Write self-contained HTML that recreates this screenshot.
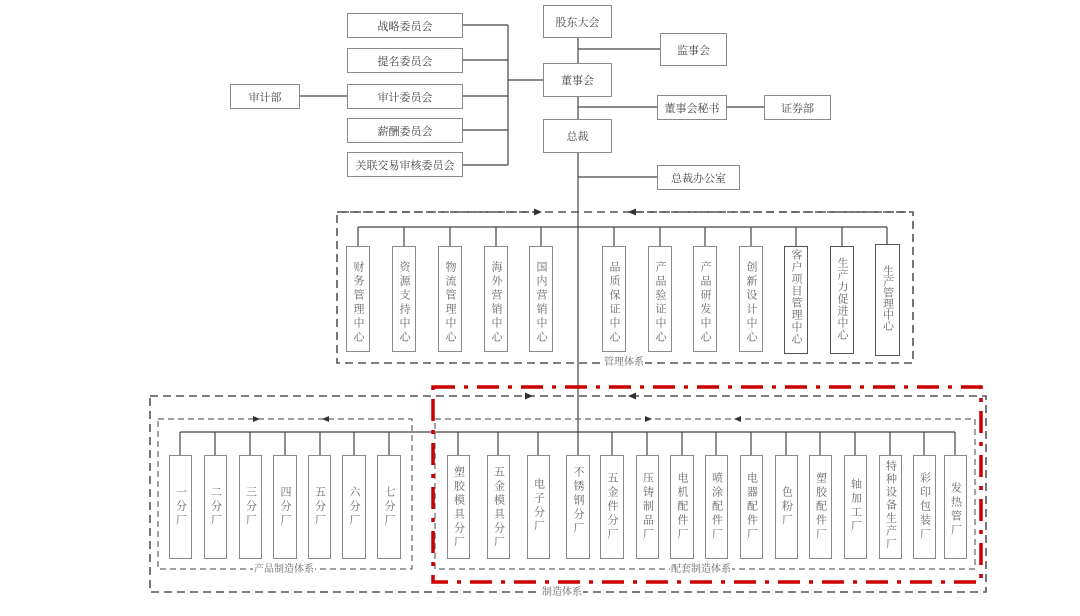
<!DOCTYPE html>
<html><head><meta charset="utf-8"><style>
body{margin:0;background:#fff;width:1080px;height:616px;overflow:hidden;position:relative;font-family:"Liberation Serif","Noto Serif CJK SC","Noto Sans CJK SC",serif;color:#555}
.b{position:absolute;border:1px solid #8a8a8a;background:#fff;box-sizing:border-box;display:flex;align-items:center;justify-content:center;font-size:11px;color:#444}
.v{position:absolute;border:1px solid #8a8a8a;background:#fff;box-sizing:border-box;display:flex;justify-content:center;font-size:11px;color:#666}
.v span{writing-mode:vertical-rl;text-orientation:upright;letter-spacing:3px;line-height:12px}
.lbl{position:absolute;font-size:10px;color:#666;background:#fff;padding:0 1px;line-height:11px}
</style></head><body>
<svg width="1080" height="616" style="position:absolute;left:0;top:0">
<g stroke="#444" stroke-width="1.2" fill="none">
<line x1="578" y1="38" x2="578" y2="432"/>
<line x1="578" y1="49" x2="660" y2="49"/>
<line x1="578" y1="107" x2="657" y2="107"/>
<line x1="727" y1="107" x2="764" y2="107"/>
<line x1="578" y1="177" x2="657" y2="177"/>
<line x1="508" y1="25" x2="508" y2="165"/>
<line x1="508" y1="80" x2="543" y2="80"/>
<line x1="463" y1="25" x2="508" y2="25"/>
<line x1="463" y1="60" x2="508" y2="60"/>
<line x1="463" y1="96" x2="508" y2="96"/>
<line x1="463" y1="130" x2="508" y2="130"/>
<line x1="463" y1="165" x2="508" y2="165"/>
<line x1="300" y1="96" x2="347" y2="96"/>
<line x1="358" y1="227" x2="887" y2="227"/>
<g id="m">
<line x1="358" y1="227" x2="358" y2="246"/><line x1="404" y1="227" x2="404" y2="246"/><line x1="450" y1="227" x2="450" y2="246"/><line x1="496" y1="227" x2="496" y2="246"/><line x1="541" y1="227" x2="541" y2="246"/><line x1="614" y1="227" x2="614" y2="246"/><line x1="660" y1="227" x2="660" y2="246"/><line x1="705" y1="227" x2="705" y2="246"/><line x1="751" y1="227" x2="751" y2="246"/><line x1="796" y1="227" x2="796" y2="246"/><line x1="842" y1="227" x2="842" y2="246"/><line x1="887" y1="227" x2="887" y2="246"/>
</g>
<line x1="180" y1="432" x2="955" y2="432"/>
<line x1="180" y1="432" x2="180" y2="455"/><line x1="215" y1="432" x2="215" y2="455"/><line x1="250" y1="432" x2="250" y2="455"/><line x1="285" y1="432" x2="285" y2="455"/><line x1="320" y1="432" x2="320" y2="455"/><line x1="354" y1="432" x2="354" y2="455"/><line x1="389" y1="432" x2="389" y2="455"/>
<line x1="458" y1="432" x2="458" y2="455"/><line x1="498" y1="432" x2="498" y2="455"/><line x1="538" y1="432" x2="538" y2="455"/><line x1="578" y1="432" x2="578" y2="455"/><line x1="612" y1="432" x2="612" y2="455"/><line x1="647" y1="432" x2="647" y2="455"/><line x1="682" y1="432" x2="682" y2="455"/><line x1="716" y1="432" x2="716" y2="455"/><line x1="751" y1="432" x2="751" y2="455"/><line x1="786" y1="432" x2="786" y2="455"/><line x1="820" y1="432" x2="820" y2="455"/><line x1="855" y1="432" x2="855" y2="455"/><line x1="890" y1="432" x2="890" y2="455"/><line x1="924" y1="432" x2="924" y2="455"/><line x1="955" y1="432" x2="955" y2="455"/>
</g>
<g stroke="#555" fill="none" stroke-width="1.6" stroke-dasharray="8,5">
<rect x="337" y="212" width="576" height="151"/>
<rect x="150" y="396" width="836" height="196"/>
</g>
<g stroke="#666" fill="none" stroke-width="1.2" stroke-dasharray="6,4">
<rect x="158" y="419" width="254" height="150"/>
<rect x="435" y="419" width="540" height="150"/>
</g>
<g stroke="#555" stroke-width="1.4" stroke-dasharray="7,5">
<line x1="342" y1="212" x2="535" y2="212"/><line x1="635" y1="212" x2="910" y2="212"/>
</g>
<g fill="#333">
<polygon points="542,212 534,208.5 534,215.5"/><polygon points="628,212 636,208.5 636,215.5"/>
<polygon points="533,396 525,392.5 525,399.5"/><polygon points="628,396 636,392.5 636,399.5"/>
<polygon points="260,419 253,416 253,422"/><polygon points="322,419 329,416 329,422"/>
<polygon points="652,419 645,416 645,422"/><polygon points="734,419 741,416 741,422"/>
</g>
<rect x="433" y="387" width="548" height="195" fill="none" stroke="#c00" stroke-width="3.5" stroke-dasharray="22,9,4,9"/>
</svg>
<div class="b" style="left:543px;top:5px;width:69px;height:33px">股东大会</div>
<div class="b" style="left:660px;top:33px;width:67px;height:33px">监事会</div>
<div class="b" style="left:543px;top:63px;width:69px;height:34px">董事会</div>
<div class="b" style="left:657px;top:95px;width:70px;height:25px">董事会秘书</div>
<div class="b" style="left:764px;top:95px;width:67px;height:25px">证券部</div>
<div class="b" style="left:543px;top:119px;width:69px;height:34px">总裁</div>
<div class="b" style="left:657px;top:165px;width:83px;height:25px">总裁办公室</div>
<div class="b" style="left:347px;top:13px;width:116px;height:25px">战略委员会</div>
<div class="b" style="left:347px;top:48px;width:116px;height:25px">提名委员会</div>
<div class="b" style="left:347px;top:84px;width:116px;height:25px">审计委员会</div>
<div class="b" style="left:347px;top:118px;width:116px;height:25px">薪酬委员会</div>
<div class="b" style="left:347px;top:152px;width:116px;height:25px">关联交易审核委员会</div>
<div class="b" style="left:230px;top:84px;width:70px;height:25px">审计部</div>

<div class="v" style="left:346px;top:246px;width:24px;height:106px;padding-top:14px"><span>财务管理中心</span></div>
<div class="v" style="left:392px;top:246px;width:24px;height:106px;padding-top:14px"><span>资源支持中心</span></div>
<div class="v" style="left:438px;top:246px;width:24px;height:106px;padding-top:14px"><span>物流管理中心</span></div>
<div class="v" style="left:484px;top:246px;width:24px;height:106px;padding-top:14px"><span>海外营销中心</span></div>
<div class="v" style="left:529px;top:246px;width:24px;height:106px;padding-top:14px"><span>国内营销中心</span></div>
<div class="v" style="left:602px;top:246px;width:24px;height:106px;padding-top:14px"><span>品质保证中心</span></div>
<div class="v" style="left:648px;top:246px;width:24px;height:106px;padding-top:14px"><span>产品验证中心</span></div>
<div class="v" style="left:693px;top:246px;width:24px;height:106px;padding-top:14px"><span>产品研发中心</span></div>
<div class="v" style="left:739px;top:246px;width:24px;height:106px;padding-top:14px"><span>创新设计中心</span></div>
<div class="v" style="left:784px;top:246px;width:24px;height:108px;padding-top:2px;border:1.5px solid #555"><span style="letter-spacing:1px">客户项目管理中心</span></div>
<div class="v" style="left:830px;top:246px;width:24px;height:108px;padding-top:10px;border:1.5px solid #555"><span style="letter-spacing:1px">生产力促进中心</span></div>
<div class="v" style="left:875px;top:244px;width:25px;height:112px;padding-top:20px;border:1.5px solid #555"><span style="letter-spacing:0">生产管理中心</span></div>
<div class="lbl" style="left:603px;top:357px">管理体系</div>

<div class="v" style="left:169px;top:455px;width:23px;height:104px;padding-top:30px"><span>一分厂</span></div>
<div class="v" style="left:204px;top:455px;width:23px;height:104px;padding-top:30px"><span>二分厂</span></div>
<div class="v" style="left:239px;top:455px;width:23px;height:104px;padding-top:30px"><span>三分厂</span></div>
<div class="v" style="left:273px;top:455px;width:24px;height:104px;padding-top:30px"><span>四分厂</span></div>
<div class="v" style="left:308px;top:455px;width:23px;height:104px;padding-top:30px"><span>五分厂</span></div>
<div class="v" style="left:342px;top:455px;width:24px;height:104px;padding-top:30px"><span>六分厂</span></div>
<div class="v" style="left:377px;top:455px;width:24px;height:104px;padding-top:30px"><span>七分厂</span></div>

<div class="v" style="left:447px;top:455px;width:23px;height:104px;padding-top:10px"><span>塑胶模具分厂</span></div>
<div class="v" style="left:487px;top:455px;width:23px;height:104px;padding-top:10px"><span>五金模具分厂</span></div>
<div class="v" style="left:527px;top:455px;width:23px;height:104px;padding-top:22px"><span>电子分厂</span></div>
<div class="v" style="left:566px;top:455px;width:24px;height:104px;padding-top:10px"><span>不锈钢分厂</span></div>
<div class="v" style="left:600px;top:455px;width:24px;height:104px;padding-top:16px"><span>五金件分厂</span></div>
<div class="v" style="left:636px;top:455px;width:23px;height:104px;padding-top:16px"><span>压铸制品厂</span></div>
<div class="v" style="left:670px;top:455px;width:24px;height:104px;padding-top:16px"><span>电机配件厂</span></div>
<div class="v" style="left:705px;top:455px;width:23px;height:104px;padding-top:16px"><span>喷涂配件厂</span></div>
<div class="v" style="left:740px;top:455px;width:23px;height:104px;padding-top:16px"><span>电器配件厂</span></div>
<div class="v" style="left:775px;top:455px;width:23px;height:104px;padding-top:30px"><span>色粉厂</span></div>
<div class="v" style="left:809px;top:455px;width:23px;height:104px;padding-top:16px"><span>塑胶配件厂</span></div>
<div class="v" style="left:844px;top:455px;width:23px;height:104px;padding-top:22px"><span>轴加工厂</span></div>
<div class="v" style="left:879px;top:455px;width:23px;height:104px;padding-top:4px"><span style="letter-spacing:2px">特种设备生产厂</span></div>
<div class="v" style="left:913px;top:455px;width:23px;height:104px;padding-top:16px"><span>彩印包装厂</span></div>
<div class="v" style="left:944px;top:455px;width:23px;height:104px;padding-top:26px"><span>发热管厂</span></div>

<div class="lbl" style="left:253px;top:564px">产品制造体系</div>
<div class="lbl" style="left:670px;top:564px">配套制造体系</div>
<div class="lbl" style="left:541px;top:587px">制造体系</div>
</body></html>
